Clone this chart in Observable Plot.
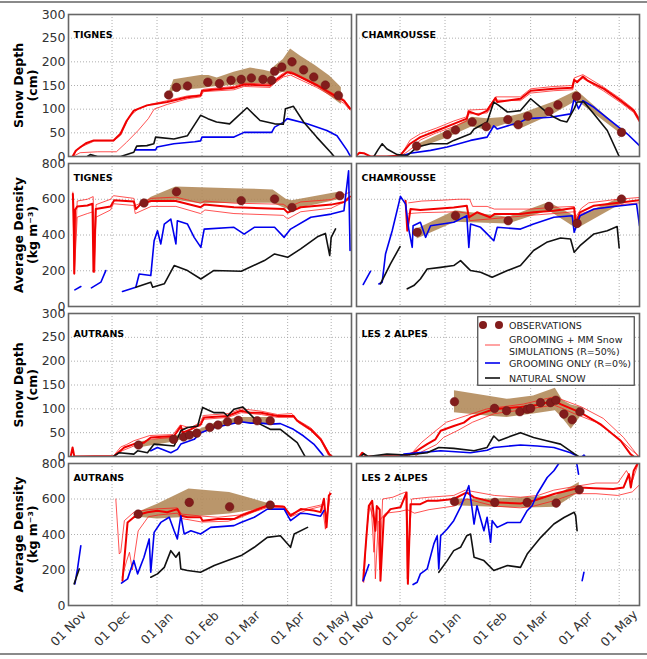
<!DOCTYPE html>
<html><head><meta charset="utf-8">
<script src="https://cdn.jsdelivr.net/npm/d3@7"></script>
<script src="https://cdn.jsdelivr.net/npm/@observablehq/plot@0.6"></script>
<style>
body{margin:0;background:#fff;font-family:"DejaVu Sans",sans-serif;}
#fig{position:relative;width:647px;height:659px;overflow:hidden;background:#fff;}
#fig svg{position:absolute;overflow:visible;}
.hline{position:absolute;left:0;width:647px;height:2px;background:#8a8a8a;}
</style></head><body><div id="fig"></div>
<script>
// ---------- axis / tick data ----------
const monthTicks = ["2013-11-01","2013-12-01","2014-01-01","2014-02-01","2014-03-01","2014-04-01","2014-05-01"];
const monthLabels = ["01 Nov","01 Dec","01 Jan","01 Feb","01 Mar","01 Apr","01 May"];
const depthTicks = [0,50,100,150,200,250,300];
const densityTicks = [0,200,400,600,800];
// values: [days since 01 Nov, value]; envelopes: [day, low, high]; null = gap

// TIGNES snow depth
const tignesDepthObs = [[69,130],[74.4,146],[82,149],[96,157],[104,154],[112,161],[119,163],[126,166],[134,163],[140,161],[142,180],[147,189],[154,200],[162,183],[169,168],[177,151],[186,129]];
const tignesDepthEnv = [[69,125,132],[72.6,139,162],[91,143,171],[96.7,146,171],[102.5,148,166],[114,150,178],[125.4,152,187],[134.6,154,182],[140,150,178],[142,171,190],[148,178,205],[153,175,227],[160,165,212],[170,150,192],[180,128,170],[188,110,146]];
const tignesDepthRed = [[2.8,0],[5,12],[8.3,20],[12,28],[17.4,34],[31,34],[35.8,48],[40,75],[45,97],[54,108],[68,115],[81.8,125],[91,129],[92,139],[114,145],[121,152],[139,150],[141,157],[148.4,173],[150.7,178],[155,175],[171.4,150],[183,129],[189.7,118],[194,101]];
const tignesDepthRedA = [[3,0],[6,15],[10,22],[18,33],[31,33],[36,45],[42,85],[48,100],[56,110],[68,118],[82,128],[91,130],[93,142],[114,148],[121,155],[139,153],[141,160],[148,176],[153,180],[171,153],[183,132],[190,120],[194,103]];
const tignesDepthRedB = [[3,0],[8,8],[20,10],[33,10],[40,30],[48,55],[55,80],[59,100],[68,110],[82,122],[91,126],[93,137],[114,141],[121,148],[139,146],[141,153],[148,168],[153,172],[171,146],[183,125],[190,112],[194,98]];
const tignesDepthBlue = [[46,14],[60,14],[61,20],[72.6,27],[87,31],[91,33],[92,41],[114,41],[121,51],[140,51],[142,62],[148,72],[150.7,80],[164.5,69],[178,55],[185,44],[192,13],[194.3,0]];
const tignesDepthBlack = [[13,0],[15,4],[20,0],[36,0],[45,9],[47,22],[54,23],[58.8,27],[60,41],[72.6,37],[82,44],[91,87],[96,80],[102,73],[111,69],[116,83],[123,103],[132,76],[142,69],[148,68],[149.5,101],[155,106],[162,73],[171,41],[180.6,9],[183,0]];

// TIGNES density
const tignesDensObs = [[52,579],[74.4,642],[119,592],[142,601],[154,554],[187,620]];
const tignesDensEnv = [[52,573,579],[56.7,585,610],[74,595,668],[91,575,664],[120,578,658],[141,578,652],[150,545,600],[154,545,592],[170,568,615],[187,598,640]];
const tignesDensRed = [[3,630],[3.5,520],[4,185],[4.5,540],[6,560],[13,565],[16.5,575],[17.2,195],[18.8,545],[29,560],[31.5,595],[45,588],[46.4,545],[50,575],[57,590],[74,590],[91,555],[93.5,570],[114,555],[148.6,545],[151,525],[160,555],[181,570],[190,585],[194,615]];
const tignesDensRedA = [[3,640],[4,190],[6,590],[13,600],[17,615],[18,200],[19,570],[29,600],[31,620],[45,605],[46,565],[57,605],[74,612],[91,578],[94,590],[114,578],[148,572],[151,555],[160,585],[181,598],[194,640]];
const tignesDensRedB = [[3,610],[4,180],[6,500],[13,520],[17,530],[18,190],[19,500],[29,540],[31,575],[45,565],[46,520],[57,560],[74,560],[91,520],[94,540],[114,520],[148,510],[151,490],[160,530],[181,550],[194,600]];
const tignesDensBlue = [[4.4,93],[8.5,112],[10,null],[15.8,104],[22.3,136],[25.7,201],[30,null],[37.2,84],[46.4,108],[48.7,182],[56.7,173],[59,368],[61.3,424],[63.6,350],[66,461],[70.5,489],[74,350],[75,480],[82,461],[86.6,387],[91.2,331],[93.5,433],[114,443],[121,405],[128,443],[142,443],[148.6,387],[153,433],[167,499],[181,517],[189.8,536],[193,759],[194,313]];
const tignesDensBlack = [[46.4,108],[56.7,136],[58,108],[66,127],[72.8,229],[82,201],[91.2,154],[100,201],[119,197],[135,257],[142,294],[151,275],[160,322],[171.5,390],[177,409],[180,285],[181,387],[184,434]];

// CHAMROUSSE snow depth
const chamDepthObs = [[41.4,22],[62.5,46],[68.2,56],[79.7,73],[89.4,63],[104.3,78],[111.4,67],[118,85],[132.6,95],[138.8,109],[151.6,127],[182.6,51]];
const chamDepthEnv = [[41.8,16,25],[62.5,39,54],[79.7,63,83],[90,55,80],[103.8,69,83],[113,58,89],[136,90,115],[152,118,139],[182,48,58]];
const chamDepthRed = [[0,2],[2,8],[5,7],[9.6,0],[21,0],[30,2],[37,27],[44,41],[55.6,55],[67,69],[76,80],[77.4,95],[84,88],[90,97],[95.8,124],[97,115],[113,122],[120,139],[136,143],[148.6,145],[150,162],[152,157],[156,169],[159,161],[170.5,143],[182,118],[191,97],[195,76]];
const chamDepthRedA = [[30,2],[33,15],[37,35],[44,48],[55,60],[67,75],[76,84],[77,98],[90,100],[96,126],[113,126],[120,143],[136,148],[149,150],[150,166],[156,173],[170,147],[182,122],[191,100],[195,80]];
const chamDepthRedB = [[30,0],[35,10],[40,22],[44,35],[55,50],[67,63],[76,75],[77,90],[90,92],[96,119],[113,118],[120,134],[136,139],[149,141],[150,158],[156,165],[170,139],[182,114],[191,93],[195,72]];
const chamDepthBlue = [[30,0],[37,7],[51,13],[62.5,20],[78.6,34],[90,41],[94.6,65],[97,58],[113,73],[117.6,80],[133.7,83],[147.5,90],[150,122],[153,101],[156,118],[163.6,104],[175,76],[186.5,48],[195,23]];
const chamDepthBlack = [[12,0],[15,15],[17.7,27],[21,16],[28,4],[35,2],[41.8,20],[51,27],[62.5,27],[67,34],[78.6,48],[81,58],[90,73],[94.6,115],[98,108],[104,94],[113,97],[120,122],[127,104],[133.7,87],[140.6,76],[145,73],[150,101],[152,115],[156.7,115],[163.6,90],[172.8,55],[181,0]];

// CHAMROUSSE density
const chamDensObs = [[41.8,415],[68.2,508],[104.5,480],[132.6,560],[152,465],[182.6,601]];
const chamDensEnv = [[41.8,378,433],[68.2,471,536],[104.5,461,499],[132.6,536,582],[152,433,499],[182.6,573,610]];
const chamDensRed = [[33.8,592],[35,424],[37.2,545],[44,540],[67,554],[76,564],[77.4,499],[83,527],[92,499],[95,517],[113,517],[122,527],[136,536],[150,551],[151,461],[154,527],[163.6,564],[182,582],[195,595]];
const chamDensRedA = [[36,580],[45,590],[60,595],[70,600],[78,600],[80,560],[90,560],[95,545],[120,545],[136,555],[150,560],[151,500],[155,550],[160,580],[180,600],[195,610]];
const chamDensRedB = [[36,520],[45,525],[70,530],[77,520],[78,480],[92,490],[120,510],[136,520],[150,530],[151,440],[155,520],[165,545],[182,570],[195,580]];
const chamDensBlue = [[4.6,123],[9.6,197],[12,null],[15.4,126],[17.7,136],[20,294],[24.6,424],[30.3,616],[33.8,573],[36,433],[38.4,331],[39,452],[44,471],[47.6,387],[51,452],[67,471],[76,508],[77.4,331],[78.6,461],[85.5,443],[90,406],[94.6,368],[97,443],[113,433],[122,461],[136,499],[148.6,508],[150,415],[154,508],[163.6,545],[182,564],[193,573],[195,452]];
const chamDensBlack = [[16.5,126],[23.4,238],[30,335],[32,null],[35,99],[39.5,117],[44,154],[48.7,210],[58,219],[67,229],[71.7,257],[78.6,201],[85.5,192],[93.5,164],[104,201],[113,229],[122,313],[131,359],[140.6,383],[147.5,378],[150,303],[154,340],[163.6,406],[172.8,424],[179.6,447],[181,327]];

// AUTRANS snow depth
const autDepthObs = [[48.2,24],[72.4,36],[79.3,41],[83.4,45],[88.4,49],[97.4,61],[103,66],[109.6,73],[117,76],[130,75],[139,75]];
const autDepthEnv = [[48,18,30],[72,30,42],[88,44,54],[103,60,72],[117,70,82],[139,68,82]];
const autDepthRed = [[1.5,0],[2.8,19],[4,0],[31.5,1],[38.4,19],[45,26],[52,29],[56.7,40],[72.8,43],[77.4,64],[78.6,50],[84.3,57],[91.2,68],[93.5,82],[109.6,85],[118.8,96],[125.4,92],[132.6,92],[144,85],[148.4,85],[155,85],[157.6,75],[166.8,57],[173.7,36],[179.5,5],[181.5,0]];
const autDepthRedA = [[31,1],[36,20],[40,25],[45,33],[56,44],[72,46],[77,66],[84,60],[91,72],[93,86],[110,90],[119,100],[133,95],[144,88],[154,90],[157,78],[167,60],[174,38],[180,5],[182,0]];
const autDepthRedB = [[31,0],[37,12],[45,22],[56,36],[72,40],[77,58],[91,64],[93,78],[110,82],[119,92],[133,88],[144,82],[155,82],[158,72],[167,54],[174,33],[179,3],[181,0]];
const autDepthBlue = [[56.7,12],[61.3,19],[70.5,8],[75,15],[77.4,26],[86.6,36],[91.2,50],[100.4,61],[112,68],[119,73],[125.4,70],[132.6,70],[139,68],[146,69],[155,57],[162,43],[169,26],[174.8,5],[176,0]];
const autDepthBlack = [[31,0],[35,8],[45,5],[47.6,12],[54.4,8],[59,26],[72.8,22],[77.4,54],[82,61],[89,64],[92.4,103],[100.4,92],[107,92],[109.6,85],[114,99],[120,104],[125.4,88],[132,68],[139,57],[146,57],[153,40],[157.6,29],[163,0]];

// LES 2 ALPES snow depth
const l2aDepthObs = [[67.5,115],[95.1,101],[103.4,96],[112.6,94],[117.6,99],[120,101],[126.8,113],[133.7,113],[137.4,118],[142.9,89],[148.6,77],[154,94]];
const l2aDepthEnv = [[67.5,92,138],[90,85,127],[103.8,82,120],[122,89,127],[137,96,143],[142,80,118],[148,57,108],[154,82,104]];
const l2aDepthRed = [[2,0],[4,8],[7,0],[32.6,1],[39.5,8],[48.7,26],[54.4,36],[58,54],[67,64],[74,71],[78.6,82],[87.8,92],[94.6,99],[113,104],[124.5,108],[136,117],[140.6,110],[154.4,92],[168,68],[182,33],[188.8,5],[191,0]];
const l2aDepthRedA = [[36,0],[39,10],[45,30],[55,55],[62,72],[75,85],[90,100],[115,110],[136,125],[141,120],[155,104],[170,80],[184,40],[193,5],[194,0]];
const l2aDepthRedB = [[40,0],[45,10],[55,25],[60,40],[70,55],[80,72],[95,90],[115,98],[136,108],[141,102],[150,90],[165,72],[180,40],[190,12],[195,0]];
const l2aDepthBlue = [[30,0],[32.6,5],[58,12],[78.6,8],[90,13],[94.6,19],[113,24],[124.5,22],[136,19],[147.5,8],[152,1],[154,null],[155.5,0],[156.7,3],[157.5,0]];
const l2aDepthBlack = [[3,0],[5,6],[8,0],[21,5],[35,3],[48.7,8],[56.7,19],[67,17],[81,12],[90,19],[94.6,43],[98,33],[104,40],[113,50],[122,40],[131,33],[140.6,26],[150,6],[153,0]];

// AUTRANS density
const autDensObs = [[48,515],[83.2,581],[111,556],[139,566]];
const autDensEnv = [[48,497,525],[61.3,487,570],[83,497,656],[111,515,637],[139.4,553,571]];
const autDensRed = [[37.2,140],[40.7,468],[45,497],[50,515],[54.4,525],[61.3,534],[68,525],[75,543],[77.4,506],[82,497],[91,497],[92.4,478],[103,487],[114,487],[118.8,506],[128,534],[137,562],[148.6,556],[153,506],[160,543],[169,535],[173.7,526],[176,601],[177.8,441],[179.4,620],[180.6,629]];
const autDensRedA = [[32.6,600],[34,420],[35,290],[36,300],[38.5,478],[45,525],[55,540],[62,545],[75,550],[78,515],[90,505],[103,497],[118,510],[128,540],[137,565],[148,560],[153,515],[165,550],[176,570],[178,500],[180,640]];
const autDensRedB = [[37,160],[40,250],[42,300],[44,200],[48,420],[55,500],[62,510],[75,520],[78,490],[92,470],[110,475],[118,495],[128,528],[137,552],[148,550],[153,500],[165,540],[175,560],[177,430],[180,600]];
const autDensBlue = [[4.4,122],[6.2,206],[8.5,337],[10,null],[36.5,126],[40.7,150],[45,253],[47.6,178],[52,272],[55.6,375],[56.7,187],[59,412],[63.6,468],[69.4,497],[72.8,421],[75,375],[77.4,506],[79.7,403],[84.3,421],[91,403],[98,440],[114,450],[118.8,468],[128,497],[137,543],[148.6,543],[153,478],[160,520],[164.5,517],[173.7,503],[176,535]];
const autDensBlack = [[3.9,122],[7.4,206],[8,null],[56.7,159],[61.3,178],[66,215],[70.5,309],[74,272],[76.3,300],[77.4,206],[82,197],[91,187],[100.4,225],[109.6,253],[119,281],[128,328],[137,384],[146,393],[153,328],[155.5,403],[164.7,440]];

// LES 2 ALPES density
const l2aDensObs = [[67.5,586],[95.3,581],[117.6,581],[137.6,577],[153.5,652]];
const l2aDensEnv = [[67.5,562,600],[95.3,553,600],[117.6,549,609],[137.6,553,618],[153.5,637,693]];
const l2aDensRed = [[4.6,140],[6,300],[8.5,562],[10.8,590],[13,421],[14,560],[16,540],[16.5,140],[18.8,496],[23.4,543],[30.3,553],[34.5,637],[35.4,122],[37.2,571],[44,571],[48.7,590],[55.6,590],[67,600],[76,637],[81,609],[94.6,581],[113,575],[122,590],[136,628],[150,656],[154,665],[163.6,661],[177,656],[184,665],[187.7,740],[189,665],[191,759],[193.4,796]];
const l2aDensRedA = [[8,540],[10,580],[12,300],[14,560],[16,200],[18,600],[25,610],[34,640],[35,150],[38,600],[50,610],[67,620],[75,650],[95,620],[113,610],[125,620],[136,650],[150,670],[165,690],[180,690],[186,760],[190,700],[195,820]];
const l2aDensRedB = [[5,130],[7,420],[9,560],[12,480],[13,150],[15,470],[20,520],[30,530],[35,540],[40,520],[50,540],[67,560],[76,600],[95,560],[113,550],[122,560],[136,590],[150,630],[165,630],[180,620],[190,640],[195,680]];
const l2aDensBlue = [[4.6,140],[8.5,230],[9,null],[39,118],[41.8,131],[44,178],[48.7,206],[53.3,347],[55.6,393],[56.7,206],[58,393],[62.5,431],[67,478],[72,560],[77.4,675],[79.7,543],[81,459],[83,562],[87.8,421],[90,497],[92.4,356],[93.5,478],[97,440],[104,468],[113,468],[117.6,534],[121,562],[124.5,628],[131.4,721],[136,759],[139.4,800],[141,850],[145,null],[150,850],[152,790],[153,740],[154,null],[155.5,140],[156.7,187]];
const l2aDensBlack = [[56.7,187],[62.5,253],[67,309],[71.7,328],[76,393],[78.6,403],[81,272],[87.8,253],[94.6,197],[104,225],[113,215],[117.6,290],[127,384],[136,459],[143,496],[150,525],[151,506],[152,421]];

// ---------- drawing ----------
const T0 = Date.UTC(2013, 10, 1);
const toDate = d => new Date(T0 + d * 864e5);
const xDomain = [toDate(0), toDate(195)];
const monthDates = monthTicks.map(s => new Date(s + "T00:00:00Z"));

const panels = [
  {row:0,col:0,kind:"depth",name:"TIGNES",obs:tignesDepthObs,env:tignesDepthEnv,red:tignesDepthRed,thin:[tignesDepthRedA,tignesDepthRedB],blue:tignesDepthBlue,black:tignesDepthBlack},
  {row:0,col:1,kind:"depth",name:"CHAMROUSSE",obs:chamDepthObs,env:chamDepthEnv,red:chamDepthRed,thin:[chamDepthRedA,chamDepthRedB],blue:chamDepthBlue,black:chamDepthBlack},
  {row:1,col:0,kind:"density",name:"TIGNES",obs:tignesDensObs,env:tignesDensEnv,red:tignesDensRed,thin:[tignesDensRedA,tignesDensRedB],blue:tignesDensBlue,black:tignesDensBlack},
  {row:1,col:1,kind:"density",name:"CHAMROUSSE",obs:chamDensObs,env:chamDensEnv,red:chamDensRed,thin:[chamDensRedA,chamDensRedB],blue:chamDensBlue,black:chamDensBlack},
  {row:2,col:0,kind:"depth",name:"AUTRANS",obs:autDepthObs,env:autDepthEnv,red:autDepthRed,thin:[autDepthRedA,autDepthRedB],blue:autDepthBlue,black:autDepthBlack},
  {row:2,col:1,kind:"depth",name:"LES 2 ALPES",obs:l2aDepthObs,env:l2aDepthEnv,red:l2aDepthRed,thin:[l2aDepthRedA,l2aDepthRedB],blue:l2aDepthBlue,black:l2aDepthBlack},
  {row:3,col:0,kind:"density",name:"AUTRANS",obs:autDensObs,env:autDensEnv,red:autDensRed,thin:[autDensRedA,autDensRedB],blue:autDensBlue,black:autDensBlack},
  {row:3,col:1,kind:"density",name:"LES 2 ALPES",obs:l2aDensObs,env:l2aDensEnv,red:l2aDensRed,thin:[l2aDensRedA,l2aDensRedB],blue:l2aDensBlue,black:l2aDensBlack}
];

const rowFrames = [[14,156],[163,306],[313,456],[463,605]];
const colFrames = [[68,351],[356,639]];
const fig = document.getElementById("fig");

const X = d => toDate(d[0]);
const Y = d => (d[1] == null ? NaN : d[1]);

panels.forEach(p => {
  const [ft, fb] = rowFrames[p.row];
  const [fl, fr] = colFrames[p.col];
  const mt = 10, mb = p.row === 3 ? 54 : 10;
  const ml = p.col === 0 ? 68 : 4, mr = 8;
  const isDepth = p.kind === "depth";
  const yTicks = isDepth ? depthTicks : densityTicks;
  const marks = [
    Plot.gridX(monthDates, {stroke:"#9a9a9a", strokeOpacity:1, strokeWidth:0.8, strokeDasharray:"1,2"}),
    Plot.gridY(yTicks, {stroke:"#9a9a9a", strokeOpacity:1, strokeWidth:0.8, strokeDasharray:"1,2"}),
    Plot.areaY(p.env, {x:X, y1:d=>d[1], y2:d=>d[2], fill:"#b08856", fillOpacity:0.88}),
    ...p.thin.map(t => Plot.line(t, {x:X, y:Y, stroke:"#ff1a1a", strokeWidth:1, strokeOpacity:0.75, clip:true})),
    Plot.line(p.red, {x:X, y:Y, stroke:"#f00000", strokeWidth:2, clip:true}),
    Plot.line(p.blue, {x:X, y:Y, stroke:"#0000ee", strokeWidth:1.6, clip:true}),
    Plot.line(p.black, {x:X, y:Y, stroke:"#111", strokeWidth:1.6, clip:true}),
    Plot.dot(p.obs, {x:X, y:Y, r:4.3, fill:"#821c1c", stroke:"#6a1010", strokeWidth:0.5}),
    Plot.frame({stroke:"#666", strokeWidth:1.6}),
    Plot.text([p.name], {text:d=>d, frameAnchor:"top-left", dx:5, dy: isDepth ? 20 : 14, lineAnchor:"middle", textAnchor:"start", fontWeight:"bold", fontSize:9.5, fill:"#000"})
  ];
  if (p.col === 0) {
    marks.push(Plot.axisY(yTicks, {tickSize:0, tickPadding:3, fontSize:12.5, label:null, fill:"#333"}));
    marks.push(Plot.text([isDepth ? "Snow Depth\n(cm)" : "Average Density\n(kg m\u207B\u00B3)"], {text:d=>d, frameAnchor:"left", dx:-43, rotate:-90, textAnchor:"middle", lineAnchor:"middle", fontWeight:"bold", fontSize:12.5, lineHeight:1.12, fill:"#000"}));
  }
  if (p.row === 3) {
    marks.push(Plot.text(monthDates, {x:d=>d, text:(d,i)=>monthLabels[i], frameAnchor:"bottom", dy:23, rotate:-45, textAnchor:"middle", lineAnchor:"middle", fontSize:12.5, fill:"#333"}));
  }
  const chart = Plot.plot({
    width: ml + (fr - fl) + mr,
    height: mt + (fb - ft) + mb,
    marginTop: mt, marginBottom: mb, marginLeft: ml, marginRight: mr,
    x: {type:"utc", domain:xDomain, axis:null},
    y: {domain: isDepth ? [0,300] : [0,800], axis:null},
    style: {background:"transparent", overflow:"visible", fontFamily:"DejaVu Sans, sans-serif", color:"#333"},
    marks
  });
  chart.style.left = (fl - ml) + "px";
  chart.style.top = (ft - mt) + "px";
  fig.appendChild(chart);
});

// legend (inside LES 2 ALPES snow depth panel)
const legendItems = ["OBSERVATIONS", "GROOMING + MM Snow", "SIMULATIONS (R=50%)", "GROOMING ONLY (R=0%)", "NATURAL SNOW"];
const ns = "http://www.w3.org/2000/svg";
const lg = document.createElementNS(ns, "svg");
lg.setAttribute("width", 158); lg.setAttribute("height", 70);
lg.style.left = "477px"; lg.style.top = "316px";
lg.innerHTML = `
<rect x="0.75" y="0.75" width="156.5" height="68.5" fill="#fff" stroke="#444" stroke-width="1.2"/>
<circle cx="6" cy="9" r="4" fill="#821c1c"/><circle cx="22" cy="9" r="4" fill="#821c1c"/>
<line x1="8" x2="23" y1="29" y2="29" stroke="#ff1a1a" stroke-width="1" stroke-opacity="0.8"/>
<line x1="8" x2="23" y1="47" y2="47" stroke="#0000ee" stroke-width="1.6"/>
<line x1="8" x2="23" y1="62" y2="62" stroke="#111" stroke-width="1.6"/>
<g font-family="DejaVu Sans, sans-serif" font-size="9.5" fill="#222" dominant-baseline="central">
<text x="32" y="9">${legendItems[0]}</text>
<text x="32" y="23">${legendItems[1]}</text>
<text x="32" y="35">${legendItems[2]}</text>
<text x="32" y="47">${legendItems[3]}</text>
<text x="32" y="62">${legendItems[4]}</text>
</g>`;
fig.appendChild(lg);

// outer figure border lines
const lineTop = document.createElement("div"); lineTop.className = "hline"; lineTop.style.top = "1px"; fig.appendChild(lineTop);
const lineBot = document.createElement("div"); lineBot.className = "hline"; lineBot.style.top = "653px"; fig.appendChild(lineBot);
</script></body></html>
